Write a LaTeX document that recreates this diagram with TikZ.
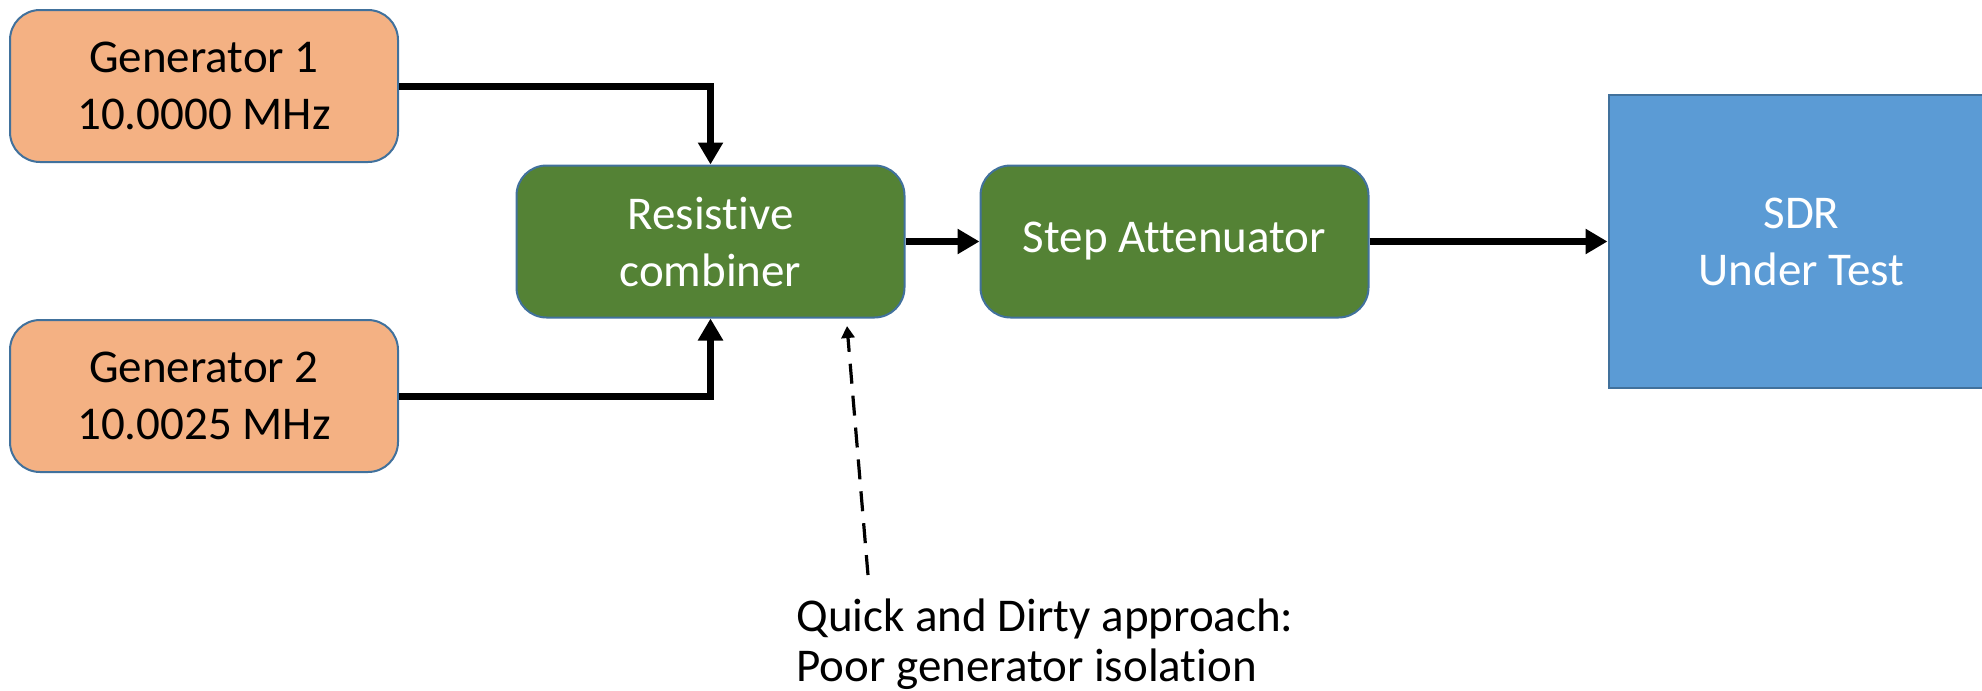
\documentclass[tikz,border=0pt]{standalone}
\usepackage{fontspec}
\setmainfont[Ligatures=NoCommon]{Carlito}
\usetikzlibrary{positioning,arrows.meta}
\definecolor{genfill}{HTML}{F4B183}
\definecolor{boxline}{HTML}{41719C}
\definecolor{stagefill}{HTML}{548235}
\definecolor{dutfill}{HTML}{5B9BD5}
\tikzset{
block/.style={draw=boxline, line width=1pt, rounded corners=15pt, minimum width=194pt, minimum height=76pt, inner sep=0pt, align=center, font=\fontsize{23.5}{28.5}\selectfont}, % common box
gen/.style={block, fill=genfill, text=black}, % signal generators
stage/.style={block, fill=stagefill, text=white}, % combiner and attenuator
dut/.style={block, rounded corners=0pt, fill=dutfill, text=white, minimum width=193pt, minimum height=146.5pt}, % device under test
wire/.style={line width=3.5pt, -{Triangle[length=11pt,width=12pt]}}, % thick signal path
note/.style={dashed, dash pattern=on 10pt off 6pt, line width=1.6pt, -{Triangle[length=6pt,width=6.5pt]}}, % annotation pointer
}
\begin{document}
\begin{tikzpicture}[x=0.5pt,y=-0.5pt]
\useasboundingbox (0,0) rectangle (1982,691);
\node[gen] (gen1) at (204,86) {Generator 1\\10.0000 MHz};
\node[gen, below=78pt of gen1] (gen2) {Generator 2\\10.0025 MHz};
\node[stage] (comb) at (710.5,241.5) {Resistive\\combiner};
\node[stage, right=37pt of comb] (atten) {Step Attenuator};
\node[dut, right=119pt of atten] (sdr) {SDR\\Under Test};
\coordinate (tip) at (868,575);
\coordinate (aim) at (847,326);
\node[anchor=north west, inner sep=0pt, align=left, font=\fontsize{23.5}{25}\selectfont] (txt) at (796,598) {Quick and Dirty approach:\\Poor generator isolation};
\draw[wire] (gen1.east) -| (comb.north);
\draw[wire] (gen2.east) -| (comb.south);
\draw[wire] (comb.east) -- (atten.west);
\draw[wire] (atten.east) -- (atten.east -| sdr.west);
\draw[note] (tip) -- (aim);
\end{tikzpicture}
\end{document}
